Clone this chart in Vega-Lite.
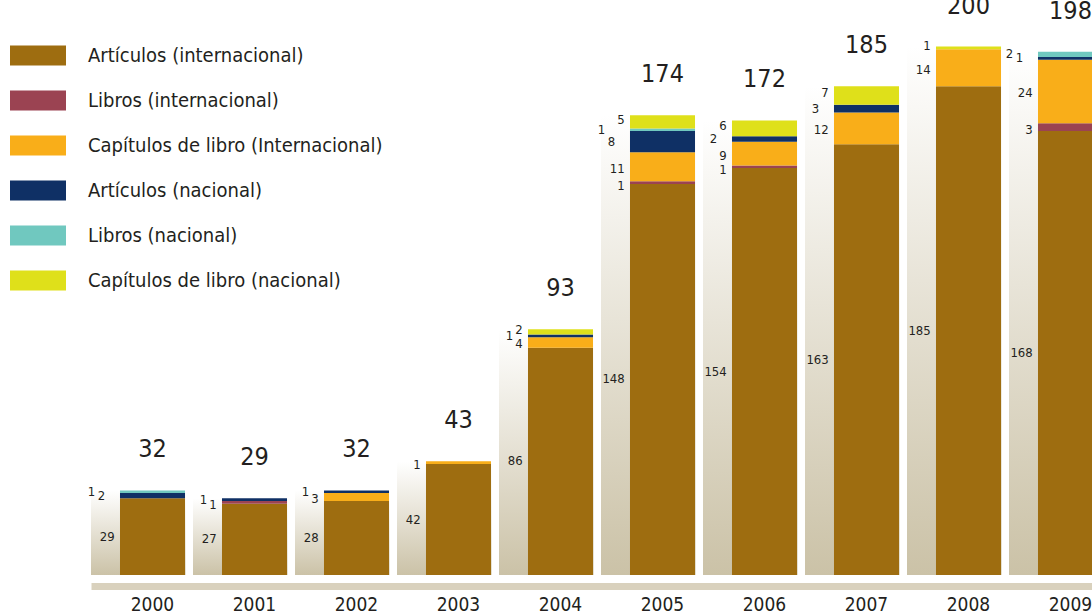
{
  "$schema": "https://vega.github.io/schema/vega-lite/v6.json",
  "width": 1001,
  "height": 575,
  "autosize": {"type": "none"},
  "padding": {"left": 91, "top": 0, "right": 0, "bottom": 38},
  "background": "white",
  "config": {"view": {"stroke": null}, "font": "Liberation Sans Narrow, DejaVu Sans Condensed, sans-serif"},
  "data": {"values": [
    {"anio": "2000", "tipo": "Artículos (internacional)", "valor": 29, "orden": 1},
    {"anio": "2000", "tipo": "Artículos (nacional)", "valor": 2, "orden": 4},
    {"anio": "2000", "tipo": "Libros (nacional)", "valor": 1, "orden": 5},
    {"anio": "2001", "tipo": "Artículos (internacional)", "valor": 27, "orden": 1},
    {"anio": "2001", "tipo": "Libros (internacional)", "valor": 1, "orden": 2},
    {"anio": "2001", "tipo": "Artículos (nacional)", "valor": 1, "orden": 4},
    {"anio": "2002", "tipo": "Artículos (internacional)", "valor": 28, "orden": 1},
    {"anio": "2002", "tipo": "Capítulos de libro (Internacional)", "valor": 3, "orden": 3},
    {"anio": "2002", "tipo": "Artículos (nacional)", "valor": 1, "orden": 4},
    {"anio": "2003", "tipo": "Artículos (internacional)", "valor": 42, "orden": 1},
    {"anio": "2003", "tipo": "Capítulos de libro (Internacional)", "valor": 1, "orden": 3},
    {"anio": "2004", "tipo": "Artículos (internacional)", "valor": 86, "orden": 1},
    {"anio": "2004", "tipo": "Capítulos de libro (Internacional)", "valor": 4, "orden": 3},
    {"anio": "2004", "tipo": "Artículos (nacional)", "valor": 1, "orden": 4},
    {"anio": "2004", "tipo": "Capítulos de libro (nacional)", "valor": 2, "orden": 6},
    {"anio": "2005", "tipo": "Artículos (internacional)", "valor": 148, "orden": 1},
    {"anio": "2005", "tipo": "Libros (internacional)", "valor": 1, "orden": 2},
    {"anio": "2005", "tipo": "Capítulos de libro (Internacional)", "valor": 11, "orden": 3},
    {"anio": "2005", "tipo": "Artículos (nacional)", "valor": 8, "orden": 4},
    {"anio": "2005", "tipo": "Libros (nacional)", "valor": 1, "orden": 5},
    {"anio": "2005", "tipo": "Capítulos de libro (nacional)", "valor": 5, "orden": 6},
    {"anio": "2006", "tipo": "Artículos (internacional)", "valor": 154, "orden": 1},
    {"anio": "2006", "tipo": "Libros (internacional)", "valor": 1, "orden": 2},
    {"anio": "2006", "tipo": "Capítulos de libro (Internacional)", "valor": 9, "orden": 3},
    {"anio": "2006", "tipo": "Artículos (nacional)", "valor": 2, "orden": 4},
    {"anio": "2006", "tipo": "Capítulos de libro (nacional)", "valor": 6, "orden": 6},
    {"anio": "2007", "tipo": "Artículos (internacional)", "valor": 163, "orden": 1},
    {"anio": "2007", "tipo": "Capítulos de libro (Internacional)", "valor": 12, "orden": 3},
    {"anio": "2007", "tipo": "Artículos (nacional)", "valor": 3, "orden": 4},
    {"anio": "2007", "tipo": "Capítulos de libro (nacional)", "valor": 7, "orden": 6},
    {"anio": "2008", "tipo": "Artículos (internacional)", "valor": 185, "orden": 1},
    {"anio": "2008", "tipo": "Capítulos de libro (Internacional)", "valor": 14, "orden": 3},
    {"anio": "2008", "tipo": "Capítulos de libro (nacional)", "valor": 1, "orden": 6},
    {"anio": "2009", "tipo": "Artículos (internacional)", "valor": 168, "orden": 1},
    {"anio": "2009", "tipo": "Libros (internacional)", "valor": 3, "orden": 2},
    {"anio": "2009", "tipo": "Capítulos de libro (Internacional)", "valor": 24, "orden": 3},
    {"anio": "2009", "tipo": "Artículos (nacional)", "valor": 1, "orden": 4},
    {"anio": "2009", "tipo": "Libros (nacional)", "valor": 2, "orden": 5}
  ]},
  "encoding": {
    "x": {
      "field": "anio", "type": "ordinal",
      "scale": {"paddingInner": 0.0735, "paddingOuter": 0, "range": [0, 1012.5]},
      "axis": {"title": null, "labelAngle": 0, "ticks": false, "domainColor": "#d9d1bd", "domainWidth": 7, "offset": 11, "labelFontSize": 19, "labelColor": "#231f20", "labelPadding": 9, "labelOffset": 14.25}
    }
  },
  "layer": [
    {
      "mark": {"type": "bar", "color": {"gradient": "linear", "x1": 0, "y1": 0, "x2": 0, "y2": 1, "stops": [{"offset": 0, "color": "#ffffff"}, {"offset": 1, "color": "#cbc2a7"}]}},
      "encoding": {"y": {"aggregate": "sum", "field": "valor", "type": "quantitative", "scale": {"domain": [0, 217.6], "nice": false, "zero": true}, "axis": null}}
    },
    {
      "mark": {"type": "bar", "width": {"band": 0.688}, "xOffset": 14.25},
      "encoding": {
        "y": {"field": "valor", "type": "quantitative", "stack": "zero"},
        "order": {"field": "orden", "type": "quantitative"},
        "color": {
          "field": "tipo", "type": "nominal",
          "scale": {
            "domain": ["Artículos (internacional)", "Libros (internacional)", "Capítulos de libro (Internacional)", "Artículos (nacional)", "Libros (nacional)", "Capítulos de libro (nacional)"],
            "range": ["#9e6d10", "#9b4352", "#f9ae19", "#0f3065", "#70c8bf", "#dfe01a"]
          },
          "legend": {"orient": "none", "legendX": -81, "legendY": 33, "title": null, "symbolType": "M-1,-0.357H1V0.357H-1Z", "symbolSize": 3136, "symbolStrokeWidth": 0, "symbolOpacity": 1, "labelFontSize": 20, "labelColor": "#231f20", "labelOffset": 22, "labelLimit": 500, "clipHeight": 45, "rowPadding": 0, "padding": 0}
        }
      }
    },
    {
      "mark": {"type": "text", "dy": -41, "fontSize": 25, "xOffset": 14.25, "color": "#231f20", "baseline": "middle"},
      "encoding": {
        "y": {"aggregate": "sum", "field": "valor", "type": "quantitative"},
        "text": {"aggregate": "sum", "field": "valor", "type": "quantitative"}
      }
    },
    {
      "mark": {"type": "text", "dx": -23.5, "align": "right", "baseline": "middle", "fontSize": 13, "color": "#231f20"},
      "encoding": {
        "y": {"field": "valor", "type": "quantitative", "stack": "zero", "bandPosition": 0.5},
        "detail": {"field": "tipo", "type": "nominal"},
        "order": {"field": "orden", "type": "quantitative"},
        "text": {"field": "valor", "type": "quantitative"},
        "opacity": {"condition": {"test": "datum.tipo === 'Artículos (internacional)'", "value": 1}, "value": 0}
      }
    },
    {
      "mark": {"type": "text", "dx": -23.5, "dy": 3, "align": "right", "baseline": "middle", "fontSize": 13, "color": "#231f20"},
      "encoding": {
        "y": {"field": "valor", "type": "quantitative", "stack": "zero", "bandPosition": 0.5},
        "detail": {"field": "tipo", "type": "nominal"},
        "order": {"field": "orden", "type": "quantitative"},
        "text": {"field": "valor", "type": "quantitative"},
        "opacity": {"condition": {"test": "datum.tipo === 'Libros (internacional)'", "value": 1}, "value": 0}
      }
    },
    {
      "mark": {"type": "text", "dx": -23.5, "dy": 2, "align": "right", "baseline": "middle", "fontSize": 13, "color": "#231f20"},
      "encoding": {
        "y": {"field": "valor", "type": "quantitative", "stack": "zero", "bandPosition": 0.5},
        "detail": {"field": "tipo", "type": "nominal"},
        "order": {"field": "orden", "type": "quantitative"},
        "text": {"field": "valor", "type": "quantitative"},
        "opacity": {"condition": {"test": "datum.tipo === 'Capítulos de libro (Internacional)'", "value": 1}, "value": 0}
      }
    },
    {
      "mark": {"type": "text", "dx": -23.5, "dy": -2, "align": "right", "baseline": "middle", "fontSize": 13, "color": "#231f20"},
      "encoding": {
        "y": {"field": "valor", "type": "quantitative", "stack": "zero", "bandPosition": 0.5},
        "detail": {"field": "tipo", "type": "nominal"},
        "order": {"field": "orden", "type": "quantitative"},
        "text": {"field": "valor", "type": "quantitative"},
        "opacity": {"condition": {"test": "datum.tipo === 'Capítulos de libro (nacional)'", "value": 1}, "value": 0}
      }
    },
    {
      "mark": {"type": "text", "dx": -33, "align": "right", "baseline": "middle", "fontSize": 13, "color": "#231f20"},
      "encoding": {
        "y": {"field": "valor", "type": "quantitative", "stack": "zero", "bandPosition": 0.5},
        "detail": {"field": "tipo", "type": "nominal"},
        "order": {"field": "orden", "type": "quantitative"},
        "text": {"field": "valor", "type": "quantitative"},
        "opacity": {"condition": {"test": "datum.tipo === 'Artículos (nacional)'", "value": 1}, "value": 0}
      }
    },
    {
      "mark": {"type": "text", "dx": -43, "align": "right", "baseline": "middle", "fontSize": 13, "color": "#231f20"},
      "encoding": {
        "y": {"field": "valor", "type": "quantitative", "stack": "zero", "bandPosition": 0.5},
        "detail": {"field": "tipo", "type": "nominal"},
        "order": {"field": "orden", "type": "quantitative"},
        "text": {"field": "valor", "type": "quantitative"},
        "opacity": {"condition": {"test": "datum.tipo === 'Libros (nacional)'", "value": 1}, "value": 0}
      }
    }
  ]
}
